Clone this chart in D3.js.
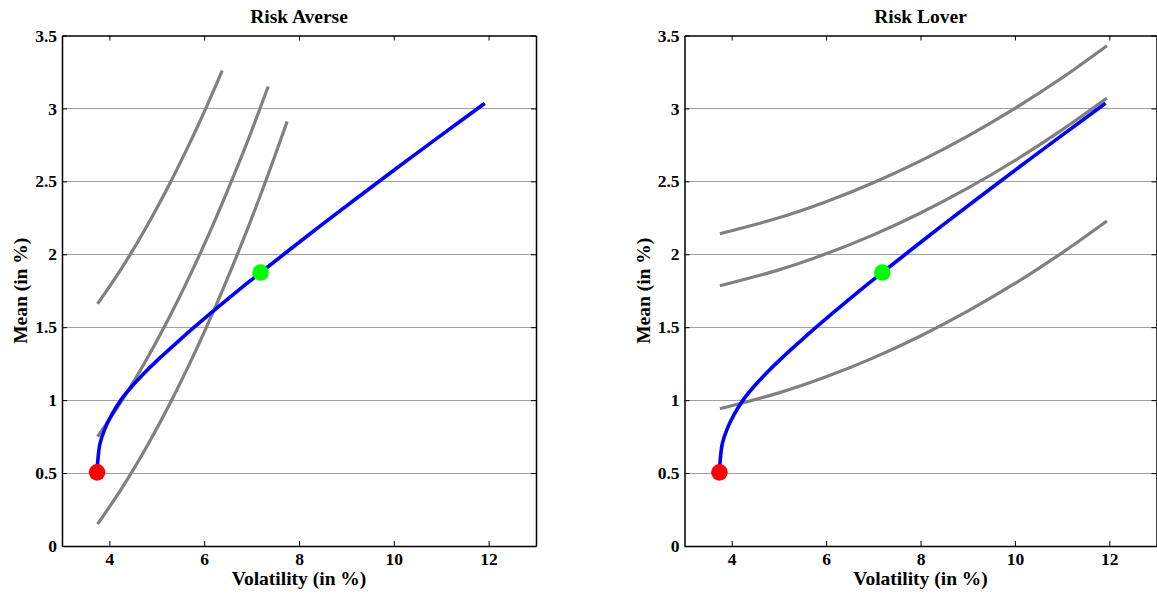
<!DOCTYPE html>
<html>
<head>
<meta charset="utf-8">
<script src="https://cdn.jsdelivr.net/npm/d3@7"></script>
<style>
  html, body { margin: 0; padding: 0; background: #fff; }
  svg { display: block; }
  text { font-family: "Liberation Serif", "Times New Roman", serif; font-weight: bold; fill: #000; }
</style>
</head>
<body>
<svg id="chart" width="1157" height="596"></svg>
<script>
// Axis ticks
const volTicks = [4, 6, 8, 10, 12];
const meanTicks = [0, 0.5, 1, 1.5, 2, 2.5, 3, 3.5];
const gridMeans = [0.5, 1, 1.5, 2, 2.5, 3];

// Efficient frontier: [volatility %, mean %]
const frontier = [
  [3.74, 0.505], [3.76, 0.60], [3.80, 0.70], [3.90, 0.80], [4.05, 0.90],
  [4.24, 1.00], [4.49, 1.10], [4.78, 1.20], [5.10, 1.30], [5.44, 1.40],
  [5.79, 1.50], [6.15, 1.60], [6.52, 1.70], [6.90, 1.80], [7.19, 1.875],
  [7.68, 2.00], [8.47, 2.20], [9.28, 2.40], [10.10, 2.60], [10.93, 2.80], [11.92, 3.035]
];
const minVariance = [3.74, 0.505];
const optimal = [7.19, 1.875];

// Risk-averse indifference curves
const averseHigh = [
  [3.75, 1.66], [4.25, 1.90], [4.75, 2.17], [5.25, 2.47], [5.75, 2.80], [6.0, 2.976], [6.38, 3.26]
];
const averseMid = [
  [3.75, 0.75], [4.25, 0.99], [4.75, 1.26], [5.25, 1.56], [5.75, 1.89], [6.25, 2.25],
  [6.75, 2.64], [7.0, 2.846], [7.35, 3.15]
];
const averseLow = [
  [3.75, 0.15], [4.25, 0.39], [4.75, 0.66], [5.25, 0.96], [5.75, 1.29], [6.25, 1.65],
  [6.75, 2.04], [7.25, 2.46], [7.75, 2.91]
];

// Risk-lover indifference curves
const loverHigh = [
  [3.75, 2.141], [5, 2.25], [6, 2.36], [7, 2.49], [8, 2.64], [9, 2.81], [10, 3.00], [11, 3.21], [11.95, 3.43]
];
const loverMid = [
  [3.75, 1.784], [5, 1.893], [6, 2.003], [7, 2.133], [8, 2.283], [9, 2.453], [10, 2.643], [11, 2.853], [11.95, 3.071]
];
const loverLow = [
  [3.75, 0.941], [5, 1.05], [6, 1.16], [7, 1.29], [8, 1.44], [9, 1.61], [10, 1.80], [11, 2.01], [11.95, 2.228]
];

const svg = d3.select("#chart");

function panel(opts) {
  const { left, right, top, bottom, title, curves } = opts;
  const x = d3.scaleLinear().domain([3, 13]).range([left, right]);
  const y = d3.scaleLinear().domain([0, 3.5]).range([bottom, top]);
  const g = svg.append("g");

  // horizontal grid
  g.selectAll("line.grid").data(gridMeans).join("line")
    .attr("class", "grid")
    .attr("x1", left).attr("x2", right)
    .attr("y1", d => y(d)).attr("y2", d => y(d))
    .attr("stroke", "#a0a0a0").attr("stroke-width", 1)
    .attr("shape-rendering", "crispEdges");

  const line = d3.line()
    .x(d => x(d[0])).y(d => y(d[1]))
    .curve(d3.curveCatmullRom.alpha(0.5));

  // indifference curves
  g.selectAll("path.ic").data(curves).join("path")
    .attr("class", "ic")
    .attr("d", line)
    .attr("fill", "none")
    .attr("stroke", "#808080")
    .attr("stroke-width", 3.2);

  // efficient frontier
  g.append("path")
    .attr("d", line(frontier))
    .attr("fill", "none")
    .attr("stroke", "#0000ff")
    .attr("stroke-width", 3.6);

  g.append("circle")
    .attr("cx", x(minVariance[0])).attr("cy", y(minVariance[1]))
    .attr("r", 8.3).attr("fill", "#ff0000");
  g.append("circle")
    .attr("cx", x(optimal[0])).attr("cy", y(optimal[1]))
    .attr("r", 8.3).attr("fill", "#00ff00");

  // axes: labelled bottom/left, unlabelled top/right, ticks pointing inward
  const axB = g.append("g").attr("transform", `translate(0,${bottom})`)
    .call(d3.axisBottom(x).tickValues(volTicks).tickSizeInner(-5).tickSizeOuter(0).tickPadding(7).tickFormat(d3.format("d")));
  const axL = g.append("g").attr("transform", `translate(${left},0)`)
    .call(d3.axisLeft(y).tickValues(meanTicks).tickSizeInner(-5).tickSizeOuter(0).tickPadding(5).tickFormat(d => String(d)));
  const axT = g.append("g").attr("transform", `translate(0,${top})`)
    .call(d3.axisTop(x).tickValues(volTicks).tickSizeInner(-5).tickSizeOuter(0).tickFormat(""));
  const axR = g.append("g").attr("transform", `translate(${right},0)`)
    .call(d3.axisRight(y).tickValues(meanTicks).tickSizeInner(-5).tickSizeOuter(0).tickFormat(""));

  [axB, axL, axT, axR].forEach(a => {
    a.select(".domain").attr("stroke", "#000").attr("stroke-width", 1.5);
    a.selectAll(".tick line").attr("stroke", "#000").attr("stroke-width", 1);
    a.selectAll("text").attr("font-family", "Liberation Serif, Times New Roman, serif")
      .attr("font-weight", "bold").attr("font-size", 17.5).attr("fill", "#000");
  });

  // title and axis labels
  g.append("text")
    .attr("x", (left + right) / 2).attr("y", 23)
    .attr("text-anchor", "middle").attr("font-size", 19.5)
    .text(title);
  g.append("text")
    .attr("x", (left + right) / 2).attr("y", 585)
    .attr("text-anchor", "middle").attr("font-size", 19.5)
    .text("Volatility (in %)");
  g.append("text")
    .attr("transform", `translate(${left - 35},${(top + bottom) / 2}) rotate(-90)`)
    .attr("text-anchor", "middle").attr("font-size", 19.5)
    .text("Mean (in %)");
}

panel({ left: 62, right: 536, top: 35.5, bottom: 546, title: "Risk Averse",
        curves: [averseHigh, averseMid, averseLow] });
panel({ left: 684.5, right: 1156.5, top: 35.5, bottom: 546, title: "Risk Lover",
        curves: [loverHigh, loverMid, loverLow] });
</script>
</body>
</html>
